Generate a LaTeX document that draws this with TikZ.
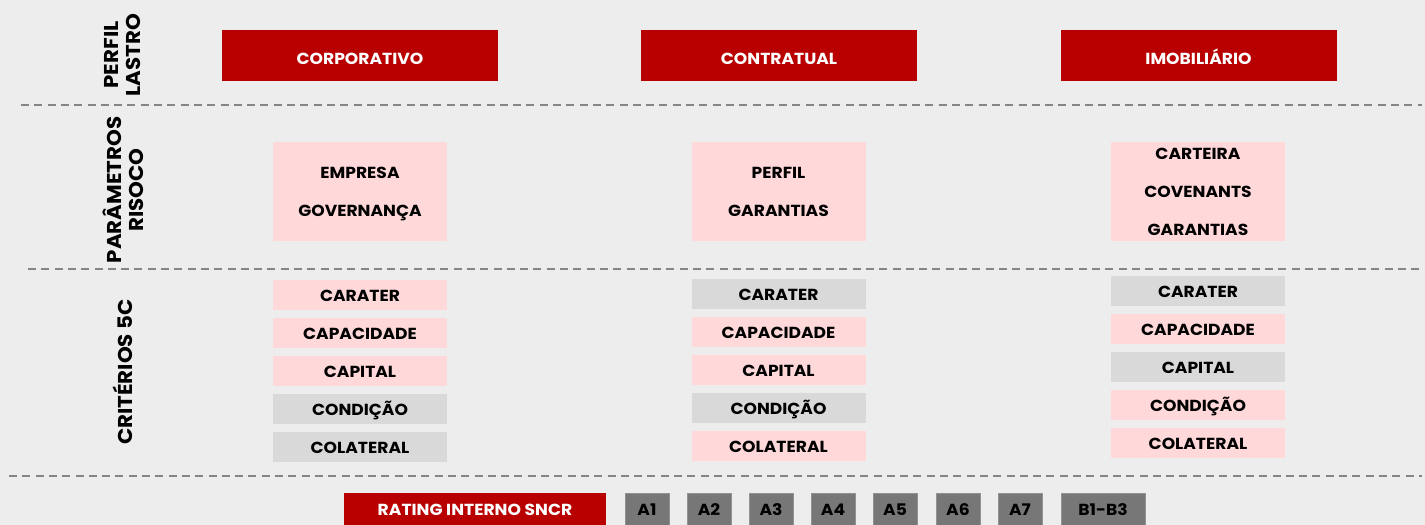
\documentclass[tikz,border=0pt]{standalone}
\usepackage{fontspec}
\setmainfont{Poppins}[BoldFont={Poppins Bold}, BoldFeatures={FakeStretch=1.07}]
\definecolor{bg}{HTML}{EDEDED}
\definecolor{darkred}{HTML}{B80000}
\definecolor{pinkbox}{HTML}{FFD9DA}
\definecolor{greybox}{HTML}{D9D9D9}
\definecolor{ratebox}{HTML}{777777}
\definecolor{dashcol}{HTML}{858585}
\tikzset{
  sep/.style={draw=dashcol, line width=2pt, dash pattern=on 8pt off 5.3pt},
  header/.style={fill=darkred, text=white, font=\bfseries\fontsize{16}{18}\selectfont, minimum width=276pt, minimum height=51pt, inner sep=0pt, text height=18.5pt, text depth=0pt},
  param/.style={fill=pinkbox, text=black, font=\bfseries\fontsize{16}{38}\selectfont, minimum width=174pt, minimum height=99pt, inner sep=0pt, align=center, text depth=0pt},
  crit/.style={fill=#1, text=black, font=\bfseries\fontsize{16}{18}\selectfont, minimum width=174pt, minimum height=30pt, inner sep=0pt, text height=13pt, text depth=0pt},
  sidelabel/.style={rotate=90, font=\bfseries\fontsize{20}{22}\selectfont, align=center, text=black},
  rating/.style={fill=darkred, text=white, font=\bfseries\fontsize{16}{18}\selectfont, minimum width=262pt, minimum height=34pt, inner sep=0pt, text height=11.5pt, text depth=0pt},
  grade/.style={fill=ratebox, draw=ratebox!80!white, line width=0.6pt, text=black, font=\bfseries\fontsize{16}{18}\selectfont, minimum width=#1, minimum height=34pt, inner sep=0pt, text height=11.5pt, text depth=0pt},
}
\begin{document}
\begin{tikzpicture}[x=1pt,y=-1pt]
\useasboundingbox (0,0) rectangle (1425,525);
\fill[bg] (0,0) rectangle (1425,525);
% separators
\coordinate (s1a) at (21,105); \coordinate (s1b) at (1422,105);
\coordinate (s2a) at (28,269); \coordinate (s2b) at (1422,269);
\coordinate (s3a) at (9,476); \coordinate (s3b) at (1422,476);
\draw[sep] (s1a) -- (s1b);
\draw[sep] (s2a) -- (s2b);
\draw[sep] (s3a) -- (s3b);
% side labels
\node[sidelabel] (lbl1) at (123,55) {PERFIL\\LASTRO};
\node[sidelabel] (lbl2) at (123,190) {PARÂMETROS\\RISOCO};
\node[sidelabel] (lbl3) at (123,372) {CRITÉRIOS 5C};
% headers
\node[header] (h1) at (360,55.5) {CORPORATIVO};
\node[header] (h2) at (779,55.5) {CONTRATUAL};
\node[header] (h3) at (1198.5,55.5) {IMOBILIÁRIO};
% parameters
\node[param] (p1) at (360,191.5) {EMPRESA\\GOVERNANÇA};
\node[param] (p2) at (778.5,191.5) {PERFIL\\GARANTIAS};
\node[param] (p3) at (1198,191.5) {CARTEIRA\\COVENANTS\\GARANTIAS};
% criteria column 1
\node[crit=pinkbox] (c11) at (360,295) {CARATER};
\node[crit=pinkbox] (c12) at (360,333) {CAPACIDADE};
\node[crit=pinkbox] (c13) at (360,371) {CAPITAL};
\node[crit=greybox] (c14) at (360,409) {CONDIÇÃO};
\node[crit=greybox] (c15) at (360,447) {COLATERAL};
% criteria column 2
\node[crit=greybox] (c21) at (778.5,294) {CARATER};
\node[crit=pinkbox] (c22) at (778.5,332) {CAPACIDADE};
\node[crit=pinkbox] (c23) at (778.5,370) {CAPITAL};
\node[crit=greybox] (c24) at (778.5,408) {CONDIÇÃO};
\node[crit=pinkbox] (c25) at (778.5,446) {COLATERAL};
% criteria column 3
\node[crit=greybox] (c31) at (1198,291) {CARATER};
\node[crit=pinkbox] (c32) at (1198,329) {CAPACIDADE};
\node[crit=greybox] (c33) at (1198,367) {CAPITAL};
\node[crit=pinkbox] (c34) at (1198,405) {CONDIÇÃO};
\node[crit=pinkbox] (c35) at (1198,443) {COLATERAL};
% rating row
\node[rating] (r) at (475,510) {RATING INTERNO SNCR};
\node[grade=44pt] (g1) at (647,510) {A1};
\node[grade=44pt] (g2) at (709,510) {A2};
\node[grade=44pt] (g3) at (771,510) {A3};
\node[grade=44pt] (g4) at (833,510) {A4};
\node[grade=44pt] (g5) at (895,510) {A5};
\node[grade=44pt] (g6) at (958,510) {A6};
\node[grade=44pt] (g7) at (1020,510) {A7};
\node[grade=84pt] (g8) at (1103,510) {B1-B3};
\end{tikzpicture}
\end{document}
